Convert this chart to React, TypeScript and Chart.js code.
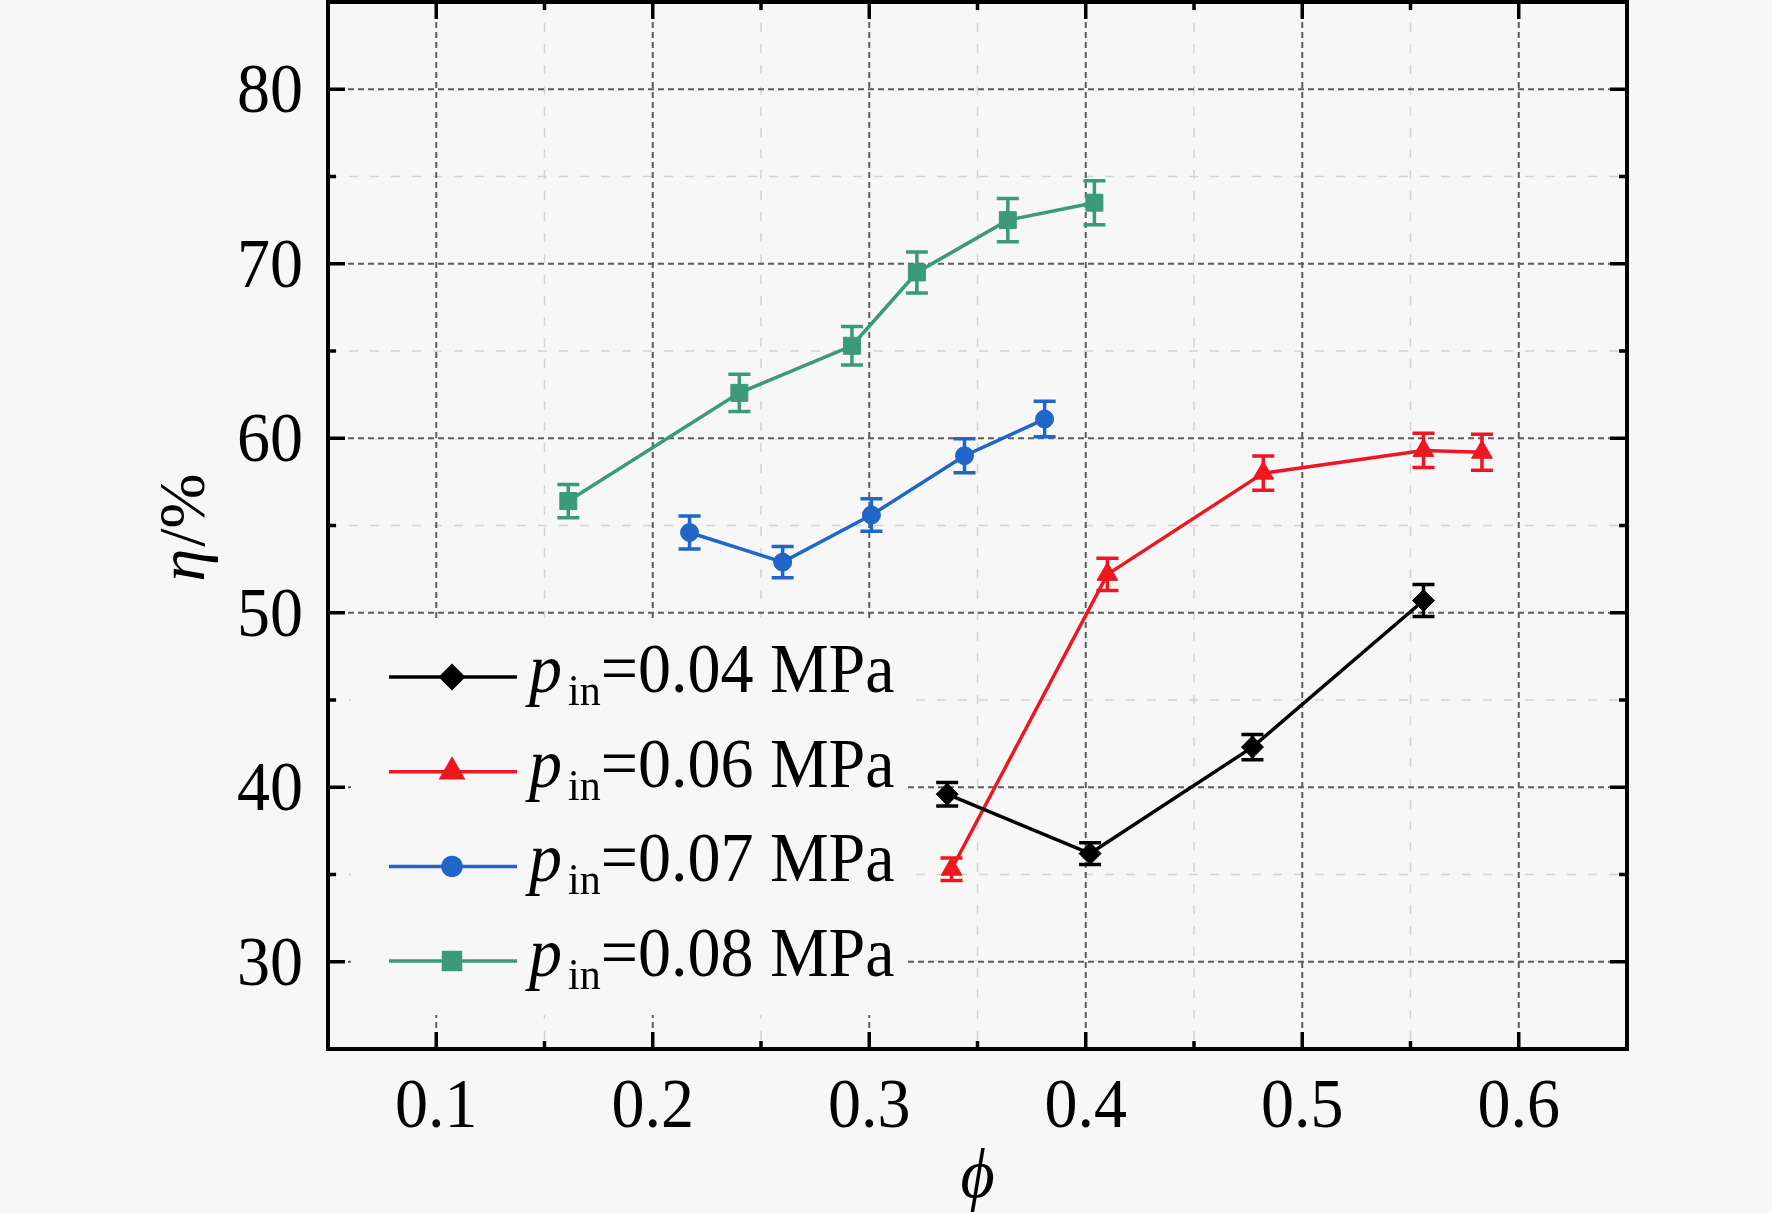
import React, { useEffect, useRef } from 'react';
import { Chart, registerables } from 'chart.js';
import { drawPoint } from 'chart.js/helpers';

Chart.register(...registerables);

// efficiency eta (%) against phi, one set of arrays per inlet pressure
const phi04 = [0.336, 0.402, 0.477, 0.556];
const eta04 = [39.6, 36.2, 42.3, 50.7];
const err04 = [0.67, 0.62, 0.72, 0.92];

const phi06 = [0.338, 0.410, 0.482, 0.556, 0.583];
const eta06 = [35.3, 52.2, 58.0, 59.3, 59.2];
const err06 = [0.64, 0.93, 0.98, 0.98, 1.03];

const phi07 = [0.217, 0.260, 0.301, 0.344, 0.381];
const eta07 = [54.6, 52.9, 55.6, 59.0, 61.1];
const err07 = [0.94, 0.90, 0.93, 0.97, 1.02];

const phi08 = [0.161, 0.240, 0.292, 0.322, 0.364, 0.404];
const eta08 = [56.4, 62.6, 65.3, 69.5, 72.5, 73.5];
const err08 = [0.95, 1.07, 1.10, 1.17, 1.24, 1.26];

const pressures = ['0.04', '0.06', '0.07', '0.08'];

const xTicks = [0.1, 0.2, 0.3, 0.4, 0.5, 0.6];
const xMinor = [0.15, 0.25, 0.35, 0.45, 0.55];
const yTicks = [30, 40, 50, 60, 70, 80];
const yMinor = [35, 45, 55, 65, 75];

const BG = '#f7f7f7';
const SERIF = '"Liberation Serif", "Times New Roman", serif';
const colors = ['#000000', '#ee1620', '#1f66c8', '#3a9a7a'];
const markers = ['rectRot', 'triangle', 'circle', 'rect'];
const markerRadius = [11, 12, 9, 12];
const STRETCH = 1.07; // the reference text is a little taller than wide

// text with a slight vertical stretch, baseline at y
const stretchedText = (ctx: CanvasRenderingContext2D, s: string, x: number, y: number) => {
  ctx.save();
  ctx.translate(x, y);
  ctx.scale(1, STRETCH);
  ctx.fillText(s, 0, 0);
  ctx.restore();
};

const series = [
  { phi: phi04, eta: eta04, err: err04 },
  { phi: phi06, eta: eta06, err: err06 },
  { phi: phi07, eta: eta07, err: err07 },
  { phi: phi08, eta: eta08, err: err08 },
];

const decorations = {
  id: 'decorations',
  beforeDatasetsDraw(chart: any) {
    const { ctx, chartArea: a } = chart;
    const xs = chart.scales.x;
    const ys = chart.scales.y;
    const vline = (px: number) => { ctx.beginPath(); ctx.moveTo(px, a.top); ctx.lineTo(px, a.bottom); ctx.stroke(); };
    const hline = (py: number) => { ctx.beginPath(); ctx.moveTo(a.left, py); ctx.lineTo(a.right, py); ctx.stroke(); };
    ctx.save();
    // minor grid
    ctx.lineWidth = 1.5;
    ctx.strokeStyle = '#d2d2d2';
    ctx.setLineDash([9, 12]);
    xMinor.forEach(v => vline(xs.getPixelForValue(v)));
    yMinor.forEach(v => hline(ys.getPixelForValue(v)));
    // major grid
    ctx.lineWidth = 2;
    ctx.strokeStyle = '#5e5e5e';
    ctx.setLineDash([6, 4]);
    xTicks.forEach(v => vline(xs.getPixelForValue(v)));
    yTicks.forEach(v => hline(ys.getPixelForValue(v)));
    ctx.setLineDash([]);
    // legend backdrop hides the grid
    ctx.fillStyle = BG;
    ctx.fillRect(351, 618, 553, 397);
    // error bars
    ctx.lineWidth = 3.5;
    series.forEach((s, i) => {
      ctx.strokeStyle = colors[i];
      s.phi.forEach((p, k) => {
        const px = xs.getPixelForValue(p);
        const lo = ys.getPixelForValue(s.eta[k] - s.err[k]);
        const hi = ys.getPixelForValue(s.eta[k] + s.err[k]);
        ctx.beginPath();
        ctx.moveTo(px, lo); ctx.lineTo(px, hi);
        ctx.moveTo(px - 11, lo); ctx.lineTo(px + 11, lo);
        ctx.moveTo(px - 11, hi); ctx.lineTo(px + 11, hi);
        ctx.stroke();
      });
    });
    ctx.restore();
  },
  afterDatasetsDraw(chart: any) {
    const { ctx, chartArea: a } = chart;
    const xs = chart.scales.x;
    const ys = chart.scales.y;
    ctx.save();

    // legend
    pressures.forEach((pr, i) => {
      const cy = 677 + i * 94.7;
      ctx.strokeStyle = colors[i];
      ctx.fillStyle = colors[i];
      ctx.lineWidth = 3.5;
      ctx.beginPath(); ctx.moveTo(389, cy); ctx.lineTo(517, cy); ctx.stroke();
      drawPoint(ctx, { pointStyle: markers[i], radius: markerRadius[i], rotation: 0, borderWidth: 1 } as any, 452, cy);
      ctx.fillStyle = '#000';
      ctx.textBaseline = 'alphabetic';
      ctx.textAlign = 'left';
      let tx = 529;
      const base = cy + 15;
      ctx.font = `italic 66px ${SERIF}`;
      stretchedText(ctx, 'p', tx, base);
      tx += ctx.measureText('p').width + 6;
      ctx.font = `42px ${SERIF}`;
      stretchedText(ctx, 'in', tx, base + 13);
      tx += ctx.measureText('in').width;
      ctx.font = `66px ${SERIF}`;
      stretchedText(ctx, `=${pr} MPa`, tx, base);
    });

    // tick labels
    ctx.fillStyle = '#000';
    ctx.font = `66px ${SERIF}`;
    ctx.textBaseline = 'alphabetic';
    ctx.textAlign = 'center';
    xTicks.forEach(v => stretchedText(ctx, v.toFixed(1), xs.getPixelForValue(v), 1127));
    ctx.textAlign = 'right';
    yTicks.forEach(v => stretchedText(ctx, String(v), 303, ys.getPixelForValue(v) + 23));

    // frame and inward ticks on all four sides
    ctx.strokeStyle = '#000';
    ctx.lineWidth = 4;
    ctx.strokeRect(a.left, a.top, a.right - a.left, a.bottom - a.top);
    ctx.lineWidth = 3.5;
    const tickX = (v: number, len: number) => {
      const px = xs.getPixelForValue(v);
      ctx.beginPath();
      ctx.moveTo(px, a.bottom); ctx.lineTo(px, a.bottom - len);
      ctx.moveTo(px, a.top); ctx.lineTo(px, a.top + len);
      ctx.stroke();
    };
    const tickY = (v: number, len: number) => {
      const py = ys.getPixelForValue(v);
      ctx.beginPath();
      ctx.moveTo(a.left, py); ctx.lineTo(a.left + len, py);
      ctx.moveTo(a.right, py); ctx.lineTo(a.right - len, py);
      ctx.stroke();
    };
    xTicks.forEach(v => tickX(v, 17));
    xMinor.forEach(v => tickX(v, 8));
    yTicks.forEach(v => tickY(v, 17));
    yMinor.forEach(v => tickY(v, 8));

    // axis titles
    ctx.fillStyle = '#000';
    ctx.textBaseline = 'alphabetic';
    ctx.font = `italic 66px ${SERIF}`;
    ctx.textAlign = 'center';
    stretchedText(ctx, 'ϕ', (a.left + a.right) / 2, 1197);

    ctx.save();
    ctx.translate(204, (a.top + a.bottom) / 2 + 3);
    ctx.rotate(-Math.PI / 2);
    ctx.textAlign = 'left';
    ctx.font = `italic 66px ${SERIF}`;
    const w1 = ctx.measureText('η').width;
    ctx.font = `66px ${SERIF}`;
    const w2 = ctx.measureText('/%').width;
    const start = -(w1 + w2) / 2;
    ctx.font = `italic 66px ${SERIF}`;
    ctx.fillText('η', start, 0);
    ctx.font = `66px ${SERIF}`;
    ctx.fillText('/%', start + w1 + 2, 0);
    ctx.restore();

    ctx.restore();
  },
};

const App: React.FC = () => {
  const canvasRef = useRef<HTMLCanvasElement>(null);

  useEffect(() => {
    if (!canvasRef.current) return;
    const chart = new Chart(canvasRef.current, {
      type: 'scatter',
      data: {
        datasets: series.map((s, i) => ({
          label: `p_in=${pressures[i]} MPa`,
          data: s.phi.map((p, k) => ({ x: p, y: s.eta[k] })),
          showLine: true,
          borderColor: colors[i],
          backgroundColor: colors[i],
          borderWidth: 3.5,
          pointStyle: markers[i],
          pointRadius: markerRadius[i],
          pointBorderWidth: 1,
          pointBackgroundColor: colors[i],
          pointBorderColor: colors[i],
        })),
      },
      options: {
        animation: false,
        responsive: false,
        devicePixelRatio: 1,
        layout: { autoPadding: false, padding: { left: 0, top: 2, right: 145, bottom: 0 } },
        plugins: { legend: { display: false }, tooltip: { enabled: false } },
        scales: {
          x: {
            type: 'linear',
            min: 0.05,
            max: 0.65,
            grid: { display: false, drawTicks: false },
            border: { display: false },
            ticks: { display: false },
            afterBuildTicks: (axis: any) => { axis.ticks = xTicks.map(v => ({ value: v })); },
            afterFit: (axis: any) => { axis.height = 164; },
          },
          y: {
            type: 'linear',
            min: 25,
            max: 85,
            grid: { display: false, drawTicks: false },
            border: { display: false },
            ticks: { display: false },
            afterBuildTicks: (axis: any) => { axis.ticks = yTicks.map(v => ({ value: v })); },
            afterFit: (axis: any) => { axis.width = 328; },
          },
        },
      },
      plugins: [decorations],
    } as any);
    return () => chart.destroy();
  }, []);

  return (
    <div style={{ position: 'fixed', left: 0, top: 0, width: 1772, height: 1213, background: BG }}>
      <canvas ref={canvasRef} width={1772} height={1213} style={{ display: 'block' }} />
    </div>
  );
};

export default App;
